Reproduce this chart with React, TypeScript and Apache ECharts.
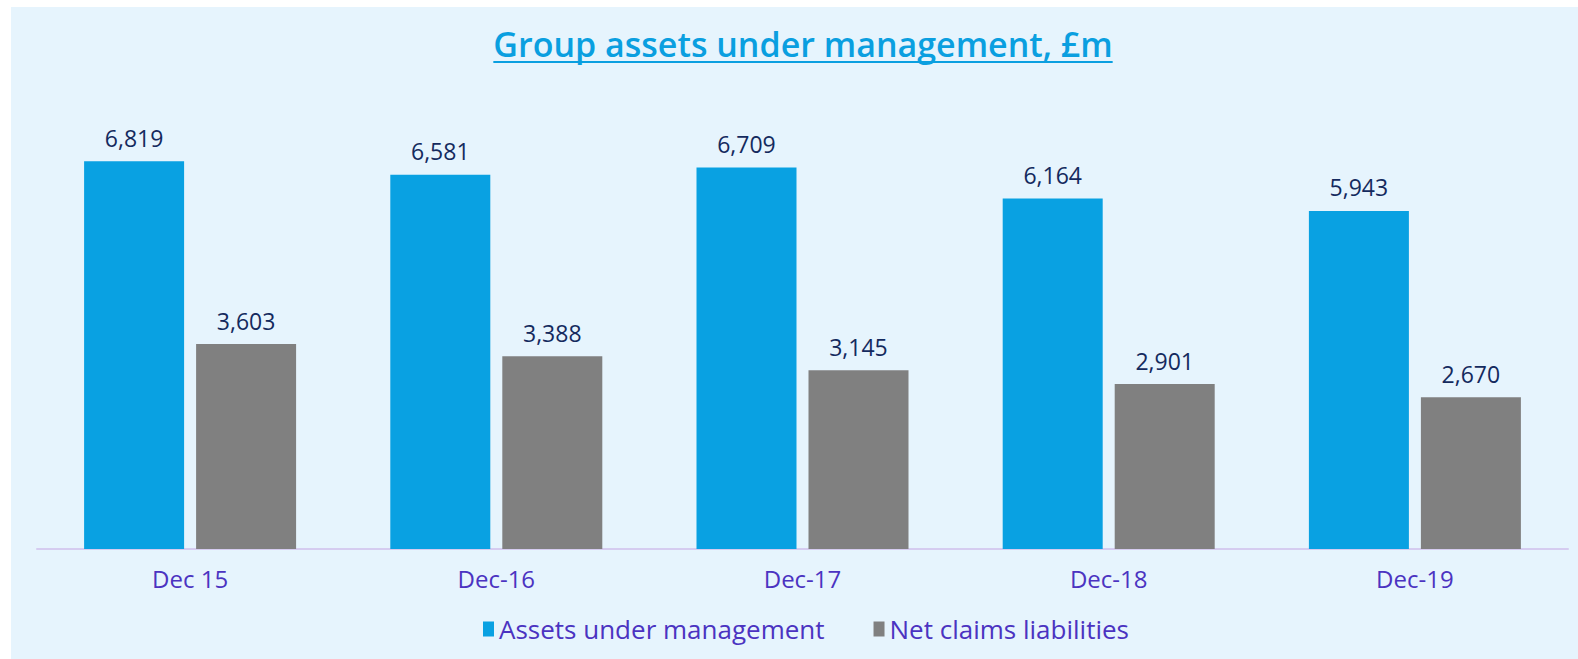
import React, { useEffect, useRef } from "react";
import * as echarts from "echarts";

const categories = ["Dec 15", "Dec-16", "Dec-17", "Dec-18", "Dec-19"];
const assetsUnderManagement = [6819, 6581, 6709, 6164, 5943];
const netClaimsLiabilities = [3603, 3388, 3145, 2901, 2670];
const seriesNames = ["Assets under management", "Net claims liabilities"];
const titleText = "Group assets under management, £m";

const FONT = "'Open Sans', sans-serif";
const BLUE = "#09A1E2";
const GRAY = "#808080";
const LABEL = "#142A5E";
const PURPLE = "#4B33C1";
const TITLE = "#0A9FE0";

export default function App() {
  const ref = useRef<HTMLDivElement>(null);
  useEffect(() => {
    if (!ref.current) return;
    const chart = echarts.init(ref.current, null, { renderer: "svg" });
    const titleFont = `600 34px 'Open Sans'`;
    let tw = 623;
    try {
      const c = document.createElement("canvas").getContext("2d");
      if (c) {
        c.font = titleFont;
        tw = c.measureText(titleText).width;
      }
    } catch (e) {}
    const cx = 792;
    const fmt = (p: any) => Number(p.value).toLocaleString("en-GB");
    const labelStyle = {
      show: true,
      position: "top",
      distance: 12,
      color: LABEL,
      fontSize: 23,
      fontFamily: FONT,
      formatter: fmt,
    };
    chart.setOption({
      animation: false,
      backgroundColor: "#E6F4FD",
      grid: { left: 26, right: 10, top: 87, bottom: 110, containLabel: false },
      legend: {
        left: 467,
        top: 604,
        itemWidth: 11,
        itemHeight: 15,
        itemGap: 49,
        icon: "rect",
        textStyle: { color: PURPLE, fontSize: 26, fontFamily: FONT },
        data: seriesNames,
      },
      graphic: [
        {
          type: "text",
          x: cx,
          y: 37,
          style: {
            text: titleText,
            font: titleFont,
            fill: TITLE,
            align: "center",
            verticalAlign: "middle",
          },
        },
        {
          type: "rect",
          shape: { x: cx - tw / 2, y: 54, width: tw, height: 2 },
          style: { fill: TITLE },
        },
      ],
      xAxis: {
        type: "category",
        data: categories,
        axisLine: { lineStyle: { color: "#D5CCF0", width: 2 } },
        axisTick: { show: false },
        axisLabel: { color: PURPLE, fontSize: 24, fontFamily: FONT, margin: 17 },
      },
      yAxis: {
        type: "value",
        min: 0,
        max: 8000,
        show: false,
        splitLine: { show: false },
      },
      series: [
        {
          name: seriesNames[0],
          type: "bar",
          data: assetsUnderManagement,
          barWidth: 100,
          barGap: "12%",
          itemStyle: { color: BLUE },
          label: labelStyle,
        },
        {
          name: seriesNames[1],
          type: "bar",
          data: netClaimsLiabilities,
          barWidth: 100,
          itemStyle: { color: GRAY },
          label: labelStyle,
        },
      ],
    });
    return () => chart.dispose();
  }, []);
  return (
    <div
      ref={ref}
      style={{ position: "absolute", left: 11, top: 7, width: 1567, height: 652 }}
    />
  );
}
